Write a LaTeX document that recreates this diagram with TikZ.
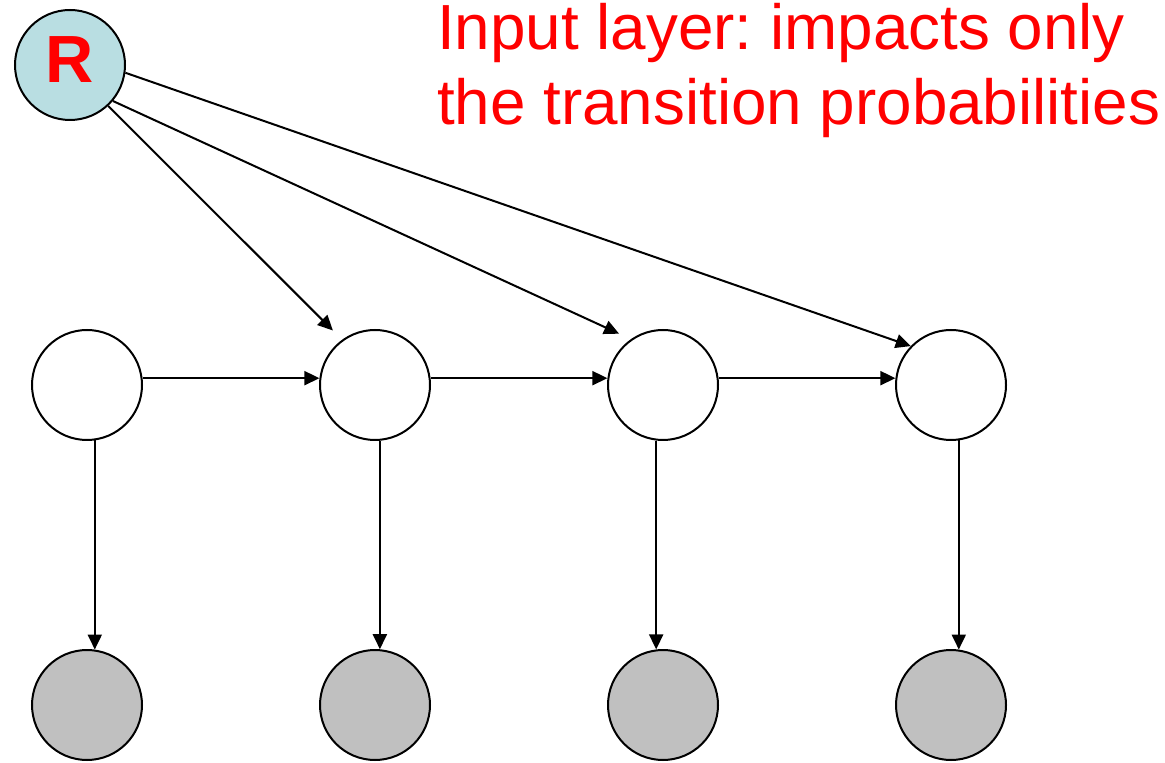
\documentclass[tikz,border=0pt]{standalone}
\usepackage{fontspec}
\setmainfont{Liberation Sans}
\usepackage{tikz}
\usetikzlibrary{arrows.meta,positioning}
\definecolor{inputblue}{RGB}{185,222,226}
\definecolor{obsgray}{RGB}{192,192,192}
\frenchspacing

\begin{document}
\begin{tikzpicture}[->,>={Triangle[length=0.3cm,width=0.28cm]},line width=0.04cm,
                node distance=5.76cm,
                state/.style={circle,draw,line width=0.04cm,minimum size=2.2cm,inner sep=0pt},
                note/.style={text=red,inner sep=0pt,anchor=base west,font=\fontsize{36.3}{43}\selectfont}]
            \useasboundingbox (0,0) rectangle (23.3,15.24);
            \node [state,fill=inputblue,text=red,text depth=0.2cm,font=\fontsize{38}{44}\selectfont\bfseries] (r) at (1.40,13.94) {R};
            \node [state]          (h1) at (1.74,7.54) {};
            \node [state]          (h2) [right of=h1] {};
            \node [state]          (h3) [right of=h2] {};
            \node [state]          (h4) [right of=h3] {};
            \node [state,fill=obsgray] (o1) [node distance=6.4cm,below of=h1] {};
            \node [state,fill=obsgray] (o2) [node distance=6.4cm,below of=h2] {};
            \node [state,fill=obsgray] (o3) [node distance=6.4cm,below of=h3] {};
            \node [state,fill=obsgray] (o4) [node distance=6.4cm,below of=h4] {};
            \node [note] (t1) at (8.72,14.24) {Input layer: impacts only};
            \node [note] (t2) at (8.72,12.74) {the transition probabilities};
            \path   (r.-47) edge [shorten >=0.26cm] (h2.126)
            (r.-40) edge [shorten >=0.26cm] (h3.125)
            (r.-8)  edge               (h4.136)
            (h1.7)  edge               (h2.173)
            (h2.7)  edge               (h3.173)
            (h3.7)  edge               (h4.173)
            (h1.-82) edge              (o1.82)
            (h2.-85) edge              (o2.85)
            (h3.-97) edge              (o3.97)
            (h4.-82) edge              (o4.82);
        \end{tikzpicture}
\end{document}
